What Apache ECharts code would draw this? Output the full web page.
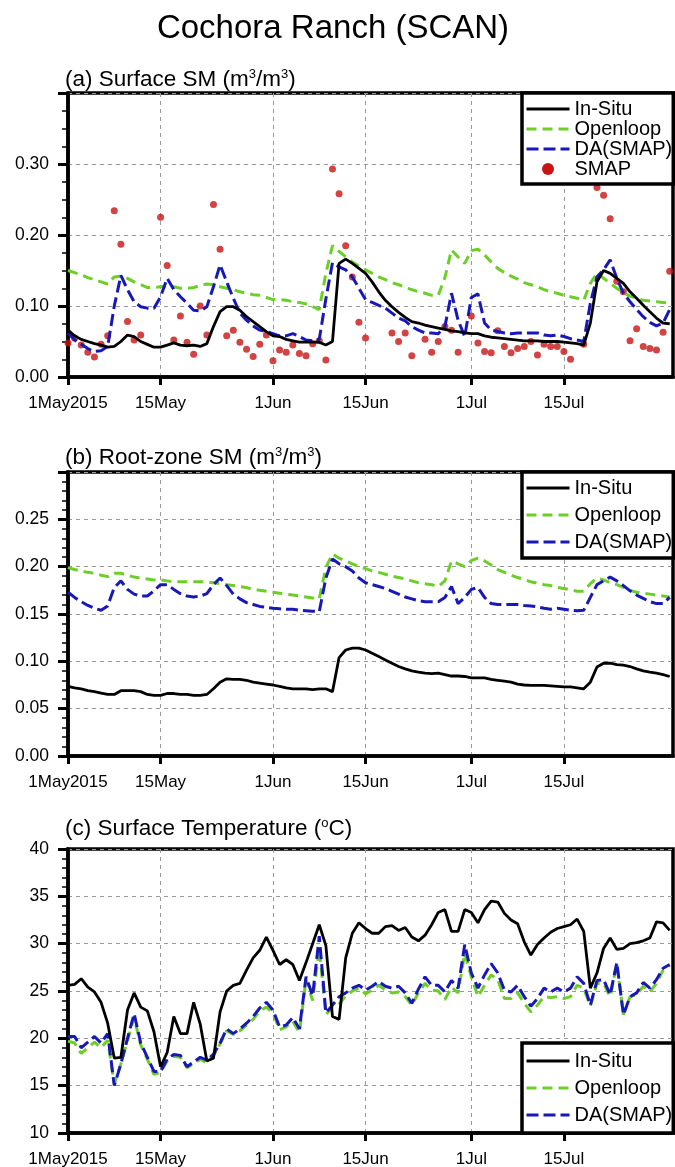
<!DOCTYPE html>
<html lang="en">
<head>
    <meta charset="UTF-8">
    <title>Cochora Ranch (SCAN)</title>
    <script src="https://cdn.jsdelivr.net/npm/echarts@6/dist/echarts.min.js"></script>
    <style>
        html, body { margin: 0; padding: 0; background: #fff; }
    </style>
</head>
<body>
    <div id="main" style="width: 675px;height:1167px;"></div>
    <script type="text/javascript">
        // x axis: day index from 1 May 2015, labelled only at these days
        var tickDays = [0, 14, 31, 45, 61, 75];
        var tickLabels = ['1May2015', '15May', '1Jun', '15Jun', '1Jul', '15Jul'];

        // (a) surface soil moisture
        var smInSitu = [0.066,0.058,0.053,0.050,0.047,0.045,0.042,0.043,0.050,0.059,
            0.057,0.050,0.046,0.042,0.042,0.045,0.048,0.045,0.044,0.045,
            0.043,0.047,0.071,0.092,0.099,0.099,0.094,0.085,0.078,0.071,
            0.064,0.058,0.057,0.053,0.051,0.049,0.049,0.049,0.049,0.045,
            0.050,0.160,0.166,0.160,0.153,0.146,0.134,0.120,0.108,0.099,
            0.091,0.084,0.078,0.076,0.073,0.071,0.069,0.067,0.065,0.064,
            0.062,0.061,0.061,0.058,0.056,0.055,0.054,0.053,0.052,0.051,
            0.051,0.051,0.050,0.050,0.050,0.049,0.048,0.047,0.045,0.076,
            0.134,0.150,0.146,0.139,0.132,0.120,0.111,0.101,0.092,0.083,
            0.076,0.075];
        var smOpenloop = [0.150,0.147,0.144,0.140,0.137,0.134,0.131,0.141,0.142,0.139,
            0.134,0.130,0.126,0.126,0.127,0.128,0.127,0.125,0.125,0.126,
            0.129,0.131,0.130,0.127,0.125,0.123,0.120,0.118,0.116,0.115,
            0.112,0.109,0.109,0.108,0.106,0.105,0.103,0.099,0.095,0.146,
            0.185,0.177,0.169,0.162,0.156,0.151,0.146,0.141,0.137,0.133,
            0.130,0.126,0.123,0.120,0.118,0.115,0.115,0.140,0.179,0.169,
            0.160,0.178,0.180,0.172,0.162,0.153,0.147,0.142,0.138,0.133,
            0.130,0.127,0.123,0.120,0.118,0.115,0.113,0.111,0.108,0.132,
            0.146,0.139,0.132,0.125,0.119,0.114,0.111,0.108,0.107,0.106,
            0.105,0.104];
        var smDA = [0.062,0.052,0.046,0.040,0.036,0.037,0.043,0.100,0.143,0.123,
            0.106,0.099,0.097,0.097,0.113,0.139,0.123,0.113,0.104,0.094,
            0.093,0.099,0.127,0.158,0.134,0.111,0.090,0.080,0.072,0.066,
            0.064,0.061,0.058,0.058,0.061,0.057,0.052,0.051,0.053,0.110,
            0.161,0.155,0.151,0.141,0.125,0.109,0.105,0.101,0.097,0.090,
            0.083,0.079,0.071,0.066,0.062,0.062,0.061,0.071,0.118,0.080,
            0.057,0.112,0.117,0.076,0.066,0.064,0.062,0.061,0.062,0.062,
            0.062,0.062,0.059,0.058,0.059,0.057,0.054,0.052,0.050,0.104,
            0.141,0.151,0.165,0.139,0.118,0.106,0.095,0.085,0.077,0.072,
            0.076,0.095];
        var smSMAP = [0.048,0.055,0.045,0.035,0.028,0.046,0.058,0.234,0.187,0.078,
            0.052,0.059,null,null,0.225,0.157,0.052,0.086,0.049,0.032,
            0.100,0.059,0.243,0.180,0.058,0.066,0.049,0.039,0.029,0.046,
            0.059,0.023,0.038,0.035,0.045,0.033,0.030,0.047,0.051,0.024,
            0.293,0.258,0.185,0.141,0.077,0.055,null,null,null,0.062,
            0.050,0.062,0.030,null,0.053,0.035,0.050,0.071,0.066,0.035,
            null,0.086,0.048,0.036,0.034,0.065,0.043,0.034,0.040,0.043,
            0.050,0.031,0.046,0.043,0.043,0.036,0.025,null,0.046,null,
            0.267,0.256,0.223,0.135,0.120,0.051,0.068,0.043,0.040,0.038,
            0.063,0.149];

        // (b) root-zone soil moisture
        var rzInSitu = [0.0735,0.072,0.071,0.069,0.068,0.0665,0.065,0.065,0.069,0.069,
            0.069,0.068,0.065,0.064,0.064,0.066,0.066,0.065,0.065,0.064,
            0.064,0.065,0.071,0.078,0.0815,0.081,0.081,0.080,0.078,0.077,
            0.076,0.075,0.0735,0.072,0.071,0.071,0.071,0.070,0.071,0.071,
            0.068,0.104,0.112,0.114,0.114,0.112,0.1085,0.105,0.1015,0.098,
            0.0945,0.092,0.090,0.0885,0.0875,0.087,0.0875,0.086,0.0845,0.0845,
            0.084,0.0825,0.0825,0.0825,0.081,0.080,0.079,0.078,0.076,0.075,
            0.0745,0.0745,0.0745,0.074,0.0735,0.073,0.073,0.072,0.071,0.078,
            0.094,0.098,0.098,0.0965,0.096,0.0945,0.092,0.090,0.0885,0.0875,
            0.086,0.084];
        var rzOpenloop = [0.199,0.197,0.1955,0.194,0.193,0.191,0.1895,0.193,0.193,0.191,
            0.189,0.188,0.187,0.186,0.186,0.185,0.184,0.184,0.184,0.184,
            0.184,0.184,0.183,0.182,0.181,0.180,0.179,0.178,0.176,0.175,
            0.174,0.173,0.172,0.171,0.170,0.169,0.168,0.167,0.166,0.199,
            0.2135,0.209,0.206,0.203,0.200,0.198,0.1955,0.194,0.192,0.190,
            0.1885,0.187,0.185,0.183,0.182,0.181,0.179,0.185,0.206,0.203,
            0.200,0.2065,0.209,0.206,0.2017,0.197,0.194,0.191,0.1885,0.1865,
            0.184,0.1825,0.181,0.180,0.178,0.177,0.1755,0.174,0.174,0.182,
            0.188,0.186,0.183,0.181,0.178,0.175,0.173,0.172,0.171,0.170,
            0.169,0.168];
        var rzDA = [0.173,0.1675,0.163,0.159,0.156,0.154,0.1585,0.178,0.185,0.176,
            0.171,0.169,0.169,0.1745,0.181,0.181,0.176,0.1715,0.169,0.168,
            0.169,0.1715,0.181,0.188,0.180,0.171,0.166,0.162,0.160,0.158,
            0.157,0.156,0.1555,0.155,0.155,0.154,0.1535,0.153,0.1525,0.188,
            0.208,0.203,0.200,0.1955,0.188,0.183,0.181,0.179,0.177,0.174,
            0.171,0.168,0.166,0.164,0.163,0.163,0.163,0.1675,0.179,0.161,
            0.1675,0.176,0.178,0.1675,0.161,0.160,0.160,0.160,0.160,0.159,
            0.1585,0.1575,0.156,0.155,0.156,0.155,0.154,0.1535,0.154,0.1675,
            0.181,0.185,0.189,0.185,0.180,0.1745,0.170,0.1665,0.163,0.161,
            0.161,0.1675];

        // (c) surface temperature, degC
        var tsInSitu = [25.6,25.7,26.3,25.4,24.9,23.8,21.6,17.9,18.0,23.0,
            24.8,23.3,22.9,20.7,17.0,18.5,22.3,20.5,20.5,23.8,
            21.5,17.6,17.9,22.8,25.0,25.6,25.8,27.2,28.5,29.3,
            30.7,29.3,27.8,28.3,27.8,26.1,28.0,30.0,32.0,29.8,
            22.3,22.0,28.5,31.1,32.2,31.6,31.1,31.1,31.8,31.9,
            31.4,31.7,30.7,30.3,30.9,32.0,33.3,33.6,31.3,31.3,
            33.6,33.3,32.2,33.6,34.5,34.4,33.2,32.5,32.1,30.2,
            28.8,29.9,30.6,31.2,31.6,31.8,32.0,32.6,31.3,25.3,
            26.9,29.5,30.6,29.4,29.5,30.0,30.1,30.3,30.6,32.3,
            32.2,31.4];
        var tsOpenloop = [19.7,19.5,18.4,19.0,19.6,19.0,19.8,15.2,17.3,19.8,
            22.2,19.3,17.8,16.2,16.4,17.6,18.1,18.0,16.9,17.3,
            17.8,17.4,18.2,19.4,20.8,20.4,20.8,21.4,22.0,22.9,
            23.3,22.7,20.9,21.2,21.8,20.6,26.2,24.0,29.5,22.5,
            23.3,23.6,24.5,25.0,25.3,24.7,25.1,25.6,25.1,24.8,
            24.9,24.4,23.5,24.8,25.8,25.1,25.0,24.1,25.4,24.8,
            29.0,26.5,24.4,25.6,26.7,26.2,24.2,24.2,24.8,23.7,
            22.8,23.5,24.4,24.3,24.4,24.2,24.4,25.6,25.3,23.4,
            25.8,25.8,24.4,27.9,22.5,24.4,24.6,25.5,24.9,25.8,
            27.2,27.7];
        var tsDA = [20.2,20.2,19.0,19.6,20.2,19.5,20.5,15.0,17.3,20.0,
            22.6,19.5,18.0,16.5,16.5,17.8,18.3,18.2,17.0,17.5,
            18.0,17.7,18.3,19.5,21.0,20.5,21.0,21.6,22.3,23.2,
            23.8,23.0,21.2,21.4,22.2,21.0,26.5,24.5,30.8,22.7,
            23.5,24.4,24.8,25.3,25.6,25.1,25.5,26.0,25.5,25.3,
            25.5,24.8,23.7,25.2,26.5,25.6,25.6,24.9,26.1,25.3,
            29.9,26.9,25.3,26.7,27.9,26.9,25.1,24.9,25.6,24.4,
            23.4,24.2,25.3,24.9,25.3,24.9,25.3,26.5,25.8,23.5,
            26.1,26.2,24.6,28.0,22.5,24.4,24.8,25.9,25.3,26.2,
            27.4,27.8];

        var FONT = '"Liberation Sans", Arial, Helvetica, sans-serif';
        var GREEN = '#6ccf26';
        var BLUE = '#1818b8';
        var RED = '#c81414';

        function pairs(arr) {
            var out = [];
            arr.forEach(function (v, i) { if (v !== null) out.push([i, v]); });
            return out;
        }

        var gridTops = [93, 472, 849];
        var grids = gridTops.map(function (t) {
            return {
                left: 68, right: 2, top: t, height: 284,
                show: true, borderColor: '#000', borderWidth: 3.5,
                outerBoundsMode: 'none'
            };
        });

        var dashed = { color: '#9a9a9a', width: 1, type: [4, 4] };

        var xAxes = [0, 1, 2].map(function (i) {
            return {
                type: 'value', gridIndex: i, min: 0, max: 91.5,
                axisLine: { show: true, onZero: false, lineStyle: { color: '#000', width: 3.5 } },
                axisTick: { show: true, length: 8, customValues: tickDays, lineStyle: { color: '#000', width: 3 } },
                axisLabel: {
                    customValues: tickDays, margin: 18, color: '#000', fontSize: 17, fontFamily: FONT,
                    formatter: function (v) { return tickLabels[tickDays.indexOf(v)]; }
                },
                splitLine: { show: true, lineStyle: dashed },
                minorTick: { show: false }
            };
        });

        function yAxis(i, min, max, interval, split, digits, showMax) {
            return {
                type: 'value', gridIndex: i, min: min, max: max, interval: interval,
                axisLine: { show: true, lineStyle: { color: '#000', width: 3.5 } },
                axisTick: { show: true, length: 10, lineStyle: { color: '#000', width: 3 } },
                minorTick: { show: true, splitNumber: split, length: 6, lineStyle: { color: '#000', width: 1.5 } },
                axisLabel: {
                    margin: 19, color: '#000', fontSize: 17.5, fontFamily: FONT, showMaxLabel: showMax,
                    formatter: function (v) { return v.toFixed(digits); }
                },
                splitLine: { show: true, lineStyle: dashed }
            };
        }

        var yAxes = [
            yAxis(0, 0, 0.4, 0.1, 4, 2, false),
            yAxis(1, 0, 0.3, 0.05, 5, 2, false),
            yAxis(2, 10, 40, 5, 5, 0, true)
        ];

        function lineSeries(name, data, idx, color, width, dash) {
            return {
                name: name, type: 'line', xAxisIndex: idx, yAxisIndex: idx,
                data: pairs(data), symbol: 'none', showSymbol: false,
                lineStyle: { color: color, width: width, type: dash || 'solid' },
                itemStyle: { color: color }
            };
        }

        var series = [
            {
                name: 'SMAP', type: 'scatter', xAxisIndex: 0, yAxisIndex: 0,
                data: pairs(smSMAP), symbol: 'circle', symbolSize: 7,
                itemStyle: { color: RED }
            },
            lineSeries('Openloop', smOpenloop, 0, GREEN, 3, [10, 6]),
            lineSeries('DA(SMAP)', smDA, 0, BLUE, 3, [12, 5]),
            lineSeries('In-Situ', smInSitu, 0, '#000', 2.8),
            lineSeries('Openloop', rzOpenloop, 1, GREEN, 3, [10, 6]),
            lineSeries('DA(SMAP)', rzDA, 1, BLUE, 3, [12, 5]),
            lineSeries('In-Situ', rzInSitu, 1, '#000', 2.8),
            lineSeries('Openloop', tsOpenloop, 2, GREEN, 3, [10, 6]),
            lineSeries('DA(SMAP)', tsDA, 2, BLUE, 3, [12, 5]),
            lineSeries('In-Situ', tsInSitu, 2, '#000', 2.8)
        ];

        var lineItems = [
            { name: 'In-Situ', itemStyle: { opacity: 0 } },
            { name: 'Openloop', itemStyle: { opacity: 0 } },
            { name: 'DA(SMAP)', itemStyle: { opacity: 0 } }
        ];

        function legend(top, items, gap, pad) {
            return {
                orient: 'vertical', left: 522, top: top, data: items,
                itemWidth: 43, itemHeight: 12, itemGap: gap, padding: pad,
                borderColor: '#000', borderWidth: 3.5, backgroundColor: '#fff',
                selectedMode: false,
                lineStyle: { width: 'inherit' },
                textStyle: { color: '#000', fontSize: 20, lineHeight: 20, fontFamily: FONT }
            };
        }

        var legends = [
            legend(93, lineItems.concat([{ name: 'SMAP', icon: 'circle', itemStyle: { opacity: 1 } }]), 0, [6, 1, 5, 3]),
            legend(472, lineItems, 7, [6, 1, 6, 3]),
            legend(1043, lineItems, 7, [8, 1, 8, 3])
        ];

        var sup = { fontSize: 13, verticalAlign: 'top', lineHeight: 13, fontFamily: FONT, fill: '#000' };
        function heading(y, text) {
            return {
                type: 'text', x: 65, y: y,
                style: {
                    text: text, fill: '#000', fontSize: 22.5, fontFamily: FONT,
                    lineHeight: 25, verticalAlign: 'middle', align: 'left',
                    rich: { s: sup }
                }
            };
        }

        var myChart = echarts.init(document.getElementById('main'));
        var option = {
            animation: false,
            backgroundColor: '#fff',
            grid: grids,
            xAxis: xAxes,
            yAxis: yAxes,
            legend: legends,
            series: series,
            graphic: [
                {
                    type: 'text', x: 333, y: 29,
                    style: {
                        text: 'Cochora Ranch (SCAN)', fill: '#000', fontSize: 33, fontFamily: FONT,
                        align: 'center', verticalAlign: 'middle'
                    }
                },
                heading(80, '(a) Surface SM (m{s|3}/m{s|3})'),
                heading(458, '(b) Root-zone SM (m{s|3}/m{s|3})'),
                heading(829, '(c) Surface Temperature ({s|o}C)')
            ]
        };
        myChart.setOption(option);
    </script>
</body>
</html>
